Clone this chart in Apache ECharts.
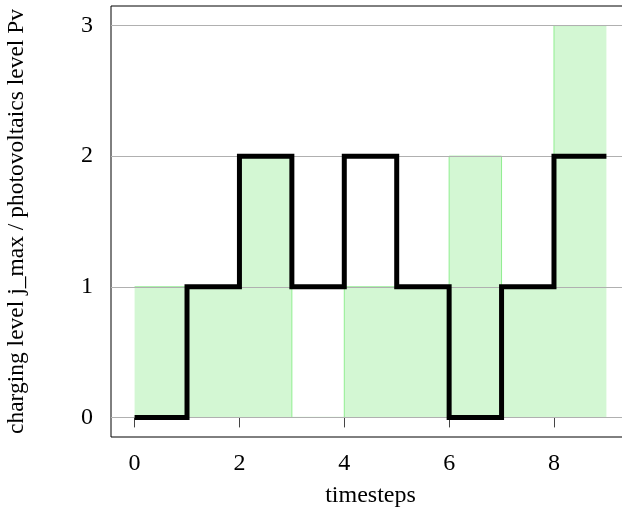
<!DOCTYPE html>
<html>
<head>
<meta charset="utf-8">
<script src="https://cdn.jsdelivr.net/npm/echarts@6/dist/echarts.min.js"></script>
<style>
  html, body { margin: 0; padding: 0; background: #fff; }
  #chart { width: 622px; height: 508px; }
</style>
</head>
<body>
<div id="chart"></div>
<script>
// timesteps 0..8, each level holds for one step
var timesteps = [0, 1, 2, 3, 4, 5, 6, 7, 8];
var pvLevel = [1, 1, 2, 0, 1, 1, 2, 1, 3];
var jMax = [0, 1, 2, 1, 2, 1, 0, 1, 2];
var xTicks = [0, 2, 4, 6, 8];
var yTicks = [0, 1, 2, 3];

var font = 'Liberation Serif, Times New Roman, serif';

// step series need a closing point at the end of the last step
function stepData(values) {
    var d = timesteps.map(function (t, i) { return [t, values[i]]; });
    d.push([timesteps[timesteps.length - 1] + 1, values[values.length - 1]]);
    return d;
}

var chart = echarts.init(document.getElementById('chart'));
chart.setOption({
    animation: false,
    grid: {
        left: 111, top: 6, bottom: 71, right: -8,
        outerBoundsMode: 'none',
        containLabel: false,
        show: true, borderColor: '#000', borderWidth: 1,
        backgroundColor: 'transparent'
    },
    xAxis: {
        type: 'value',
        min: -0.45, max: 9.45,
        name: 'timesteps',
        nameLocation: 'middle',
        nameGap: 47,
        nameTextStyle: { fontFamily: font, fontSize: 24, color: '#000' },
        axisLine: { show: false },
        axisTick: { show: true, length: 10, customValues: xTicks, lineStyle: { color: '#444' } },
        axisLabel: { customValues: xTicks, margin: 15, fontFamily: font, fontSize: 24, color: '#000' },
        splitLine: { show: false }
    },
    yAxis: {
        type: 'value',
        min: -0.15, max: 3.15,
        name: 'charging level j_max / photovoltaics level Pv',
        nameLocation: 'middle',
        nameGap: 82,
        nameTextStyle: { fontFamily: font, fontSize: 23.5, color: '#000' },
        axisLine: { show: false },
        axisTick: { show: true, length: 10, customValues: yTicks, lineStyle: { color: '#444' } },
        axisLabel: { customValues: yTicks, margin: 18, fontFamily: font, fontSize: 24, color: '#000' },
        splitLine: { show: false }
    },
    series: [
        {
            type: 'line',
            step: 'end',
            data: stepData(pvLevel),
            showSymbol: false,
            lineStyle: { color: '#90ee90', width: 1 },
            areaStyle: { color: 'rgb(211,247,211)', opacity: 1, origin: 0 },
            markLine: {
                silent: true,
                symbol: 'none',
                label: { show: false },
                lineStyle: { color: '#b0b0b0', width: 1, type: 'solid' },
                data: yTicks.map(function (v) { return { yAxis: v }; })
            },
            z: 2
        },
        {
            type: 'line',
            step: 'end',
            data: stepData(jMax),
            showSymbol: false,
            lineStyle: { color: '#000', width: 5, join: 'miter' },
            z: 5
        }
    ]
});
</script>
</body>
</html>
